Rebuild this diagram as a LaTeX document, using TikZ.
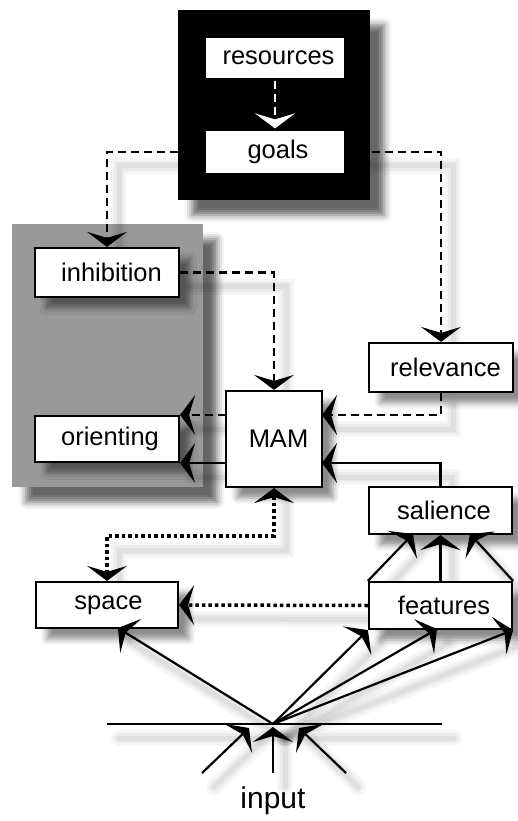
\documentclass[tikz,border=0pt]{standalone}
\usepackage{fontspec}
\setmainfont{Liberation Sans}
\usetikzlibrary{arrows.meta,shadows.blur,calc}
\begin{document}
\begin{tikzpicture}[x=1pt,y=-1pt,
  box/.style={draw=black, line width=2.2pt, fill=white, inner sep=0pt,
    font=\fontsize{25.5}{30}\selectfont,
    blur shadow={shadow xshift=11pt, shadow yshift=-11pt, shadow blur radius=6pt, shadow opacity=45}},
  container/.style={draw=none, inner sep=0pt,
    blur shadow={shadow xshift=14pt, shadow yshift=-15pt, shadow blur radius=7pt, shadow opacity=60}},
  head/.style={-{Stealth[length=15pt 0,width=40pt 0,inset=6pt 0,#1]}},
  arr/.style={line width=2.2pt, head=black},
  dsh/.style={arr, dash pattern=on 8pt off 5pt},
  wdsh/.style={line width=2.2pt, draw=white, dash pattern=on 8pt off 5pt, head=white},
  dot/.style={line width=3.5pt, dash pattern=on 3.5pt off 3pt,
    {Stealth[length=15pt 0,width=40pt 0,inset=6pt 0]}-{Stealth[length=15pt 0,width=40pt 0,inset=6pt 0]}},
  dotone/.style={line width=3.5pt, dash pattern=on 3.5pt off 3pt, head=black},
  plain/.style={line width=2.2pt},
]
\useasboundingbox (0,0) rectangle (518,821);

\newcommand\boxes{%
\node[box, minimum width=140pt, minimum height=43pt] (res) at (275,58) {\hspace*{7pt}resources};
\node[box, minimum width=140pt, minimum height=45pt] (goals) at (275,152) {\hspace*{6pt}goals};
\node[box, minimum width=144pt, minimum height=49pt] (inh) at (107,272.5) {\hspace*{9pt}inhibition};
\node[box, minimum width=144pt, minimum height=46pt] (ori) at (107,439) {\hspace*{6pt}orienting};
\node[box, minimum width=144pt, minimum height=49pt] (rel) at (441,367.5) {\hspace*{9pt}relevance};
\node[box, minimum width=96pt, minimum height=96pt] (mam) at (274,439) {\hspace*{9pt}MAM};
\node[box, minimum width=143pt, minimum height=47pt] (sal) at (440.5,510.5) {\hspace*{7pt}salience};
\node[box, minimum width=143pt, minimum height=47pt] (fea) at (440.5,605.5) {\hspace*{7pt}features};
\node[box, minimum width=142pt, minimum height=46pt] (spa) at (107,605) {\hspace*{3pt}space};
}

% containers
\node[container, fill=black, minimum width=192pt, minimum height=190pt] (top) at (274,105) {};
\node[container, fill=black!40, minimum width=191pt, minimum height=263pt] (grp) at (107.5,355.5) {};

% invisible pass: only to know where the boxes are
\begin{scope}[box/.style={inner sep=0pt, draw=none, fill=none,
   execute at begin node={\setbox0\hbox\bgroup}, execute at end node={\egroup}}]
\boxes
\end{scope}

% coordinates
\coordinate (mE1) at (322,415);
\coordinate (mE2) at (322,463);
\coordinate (mW1) at (226,415);
\coordinate (mW2) at (226,463);
\coordinate (dm) at (274,536);
\coordinate (c) at (273,724);
\coordinate (hl) at (107,724);
\coordinate (hr) at (442,724);
\coordinate (sB1) at (413,534);
\coordinate (sB3) at (470,534);
\coordinate (spB) at (118,628);
\coordinate (fB2) at (437,629);
\coordinate (i1) at (202,773);
\coordinate (i1t) at (249,728);
\coordinate (i2) at (273,773);
\coordinate (i2t) at (273,727);
\coordinate (i3) at (346,773);
\coordinate (i3t) at (299,728);

\newcommand\connectors{%
\draw[wdsh] (res.south) -- (goals.north);
\draw[dsh] (goals.west) -| (inh.north);
\draw[dsh] (goals.east) -| (rel.north);
\draw[dsh] (inh.east) -| (mam.north);
\draw[dsh] (rel.south) |- (mE1);
\draw[arr] (sal.north) |- (mE2);
\draw[dsh] (mW1) -- (mW1 -| ori.east);
\draw[arr] (mW2) -- (mW2 -| ori.east);
\draw[dot] (mam.south) -- (dm) -| (spa.north);
\draw[dotone] (fea.west) -- (spa.east);
\draw[arr] (fea.north west) -- (sB1);
\draw[arr] (fea.north) -- (sal.south);
\draw[arr] (fea.north east) -- (sB3);
\draw[plain] (hl) -- (hr);
\draw[arr] (c) -- (spB);
\draw[arr] (c) -- (fea.south west);
\draw[arr] (c) -- (fea.south east);
\draw[arr] (c) -- (fB2);
\draw[arr] (i1) -- (i1t);
\draw[arr] (i2) -- (i2t);
\draw[arr] (i3) -- (i3t);
}

% soft shadows of the connectors
\foreach \w/\o in {16/0.035, 10/0.045, 5/0.05}{
\begin{scope}[transform canvas={shift={(12pt,-14pt)}},
  arr/.style={draw=black, line width=\w pt, opacity=\o, line cap=round},
  dsh/.style={arr}, wdsh/.style={arr}, dot/.style={arr}, dotone/.style={arr}, plain/.style={arr}]
\connectors
\end{scope}
}

% real boxes
\boxes
\node[font=\fontsize{30}{34}\selectfont] (inp) at (273,801) {input};

\connectors
\end{tikzpicture}
\end{document}
